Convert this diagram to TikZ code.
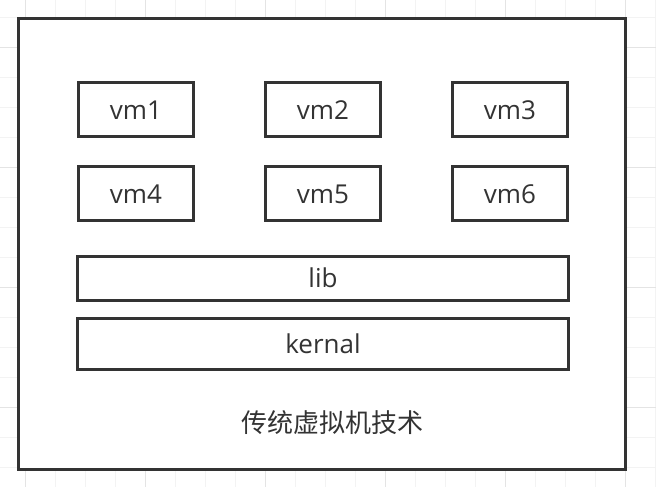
\documentclass[tikz,border=0pt]{standalone}
\usepackage{fontspec}
\setmainfont{Open Sans}
\newfontfamily\cjk{Noto Sans CJK SC}
\usetikzlibrary{positioning}
\definecolor{boxgray}{RGB}{51,51,51}
\definecolor{gridminor}{RGB}{243,243,243}
\definecolor{gridmajor}{RGB}{228,228,228}

\begin{document}
\begin{tikzpicture}[x=0.75pt, y=-0.75pt, node distance=140.25pt, auto,
        vmbox/.style={draw=boxgray, line width=2.25pt, fill=white, minimum width=86.25pt, minimum height=40.5pt, text=boxgray, text height=14pt, text depth=0pt, font=\fontsize{19.5}{23}\selectfont},
        layerbox/.style={vmbox, minimum width=368.25pt}]
        \useasboundingbox (0,0) rectangle (656,487);
        \fill [white] (0,0) rectangle (656,487);

        % Background grid
        \foreach \x in {25,55,...,655} \draw [gridminor, line width=0.75pt] (\x,0) -- (\x,487);
        \foreach \y in {17,47,...,487} \draw [gridminor, line width=0.75pt] (0,\y) -- (656,\y);
        \foreach \x in {25,145,...,655} \draw [gridmajor, line width=0.75pt] (\x,0) -- (\x,487);
        \foreach \y in {47,167,...,487} \draw [gridmajor, line width=0.75pt] (0,\y) -- (656,\y);

        % Outer frame
        \node [draw=boxgray, line width=2.25pt, fill=white, minimum width=455.6pt, minimum height=338.6pt] (frame) at (321.75,243.75) {};

        % Virtual machines
        \node [vmbox] (vm1) at (136,109.75) {vm1};
        \node [vmbox, right of=vm1] (vm2) {vm2};
        \node [vmbox, right of=vm2] (vm3) {vm3};
        \node [vmbox, below of=vm1, node distance=63pt] (vm4) {vm4};
        \node [vmbox, right of=vm4] (vm5) {vm5};
        \node [vmbox, right of=vm5] (vm6) {vm6};

        % Layers
        \node [layerbox, below of=vm5, node distance=63.5pt, minimum height=33.4pt] (lib) {lib};
        \node [layerbox, below of=lib, node distance=49.5pt, minimum height=38.25pt] (kernal) {kernal};

        % Caption
        \node [text=boxgray, font=\cjk\fontsize{19.5}{24}\selectfont] (caption) at (332,423) {传统虚拟机技术};
    \end{tikzpicture}
\end{document}
